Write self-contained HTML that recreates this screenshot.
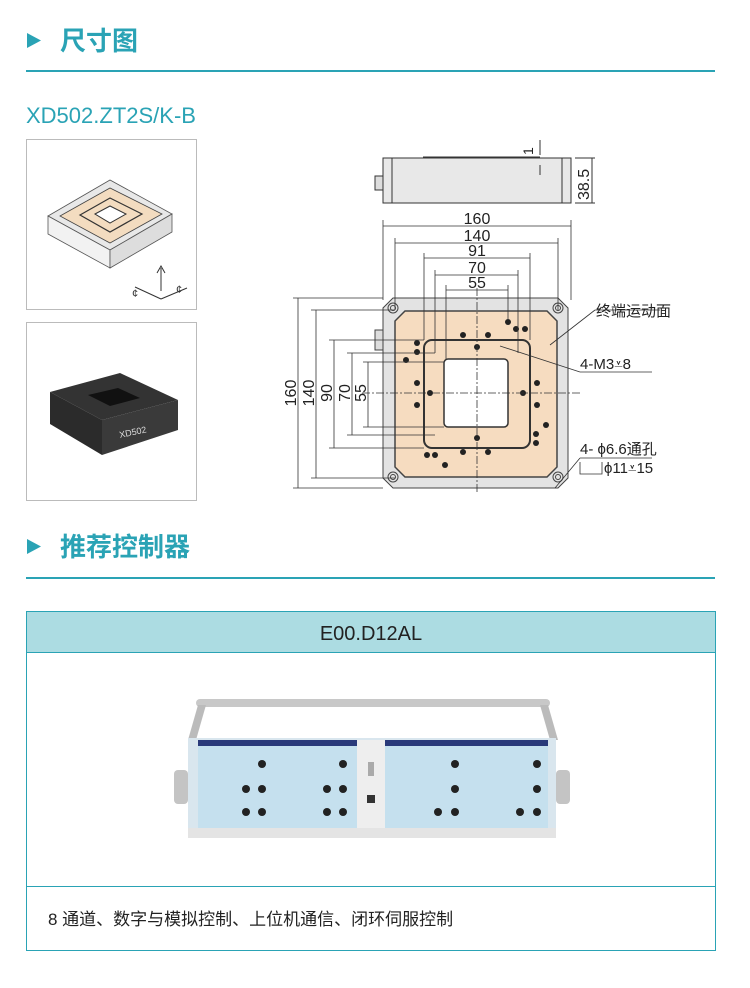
<!DOCTYPE html>
<html><head><meta charset="utf-8"><style>
body{margin:0;background:#fff;width:750px;height:983px;overflow:hidden;font-family:"Liberation Sans","Noto Sans CJK SC",sans-serif}
</style></head><body>
<svg width="750" height="983" xmlns="http://www.w3.org/2000/svg" font-family="Liberation Sans, Noto Sans CJK SC, sans-serif">
<polygon points="27,33 27,48 41,40.5" fill="#2aa3b5"/>
<text x="60" y="50" font-size="26" font-weight="bold" fill="#2aa3b5" font-family="Noto Sans CJK SC, sans-serif">尺寸图</text>
<rect x="26" y="70" width="689" height="2" fill="#2aa3b5"/>
<text x="26" y="123" font-size="22" fill="#2aa3b5">XD502.ZT2S/K-B</text>

<rect x="26.5" y="139.5" width="170" height="170" fill="#fff" stroke="#bbb"/>
<polygon points="48,216 110,180 172,214 110,250" fill="#e8e8e8" stroke="#555" stroke-width="0.8"/>
<polygon points="48,216 110,250 110,268 48,234" fill="#f2f2f2" stroke="#555" stroke-width="0.8"/>
<polygon points="110,250 172,214 172,232 110,268" fill="#ddd" stroke="#555" stroke-width="0.8"/>
<polygon points="60,216 110,188 162,214 110,243" fill="#f3dcc0" stroke="#444" stroke-width="0.8"/>
<polygon points="80,215 110,198 142,214 110,232" fill="none" stroke="#333" stroke-width="1.2"/>
<polygon points="95,214 110,206 126,214 110,223" fill="#fff" stroke="#333"/>
<path d="M161,291 L161,268 M157,273 L161,266 165,273 M135,287 L161,299 M161,299 L187,288" stroke="#333" fill="none"/>
<text x="132" y="297" font-size="11" fill="#333">¢</text><text x="176" y="293" font-size="11" fill="#333">¢</text>

<rect x="26.5" y="322.5" width="170" height="178" fill="#fff" stroke="#bbb"/>
<polygon points="50,392 120,373 178,400 102,420" fill="#333"/>
<polygon points="50,392 102,420 102,455 50,424" fill="#2b2b2b"/>
<polygon points="102,420 178,400 178,430 102,455" fill="#3a3a3a"/>
<polygon points="88,395 118,388 140,398 110,406" fill="#111"/>
<text x="120" y="438" font-size="9" fill="#ddd" transform="rotate(-12 120 438)">XD502</text>

<g stroke="#333" stroke-width="1" fill="none">
<rect x="383" y="158" width="188" height="45" fill="#e8e8e8"/>
<line x1="392" y1="158" x2="392" y2="203"/><line x1="562" y1="158" x2="562" y2="203"/>
<rect x="375" y="176" width="8" height="14" fill="#ddd"/>
<line x1="423" y1="157" x2="540" y2="157"/>
<line x1="540" y1="140" x2="540" y2="155"/><line x1="540" y1="165" x2="540" y2="175"/>
<line x1="575" y1="158" x2="595" y2="158"/><line x1="575" y1="203" x2="595" y2="203"/>
<line x1="592" y1="158" x2="592" y2="203"/>
</g>
<text x="533" y="155" font-size="14" fill="#222" transform="rotate(-90 533 155)">1</text>
<text x="589" y="200" font-size="16" fill="#222" transform="rotate(-90 589 200)">38.5</text>

<polygon points="393,298 558,298 568,308 568,478 558,488 393,488 383,478 383,308" fill="#e3e3e3" stroke="#444"/>
<polygon points="405,311 547,311 557,321 557,467 547,477 405,477 395,467 395,321" fill="#f6dcc0" stroke="#444" stroke-width="1.5"/>
<rect x="424" y="340" width="106" height="108" rx="8" fill="none" stroke="#333" stroke-width="2"/>
<rect x="444" y="359" width="64" height="68" rx="4" fill="#fff" stroke="#333" stroke-width="1.5"/>
<g fill="none" stroke="#444">
<circle cx="393" cy="308" r="5"/><circle cx="393" cy="308" r="2.5"/>
<circle cx="558" cy="308" r="5"/><circle cx="558" cy="308" r="2.5"/>
<circle cx="393" cy="477" r="5"/><circle cx="393" cy="477" r="2.5"/>
<circle cx="558" cy="477" r="5"/><circle cx="558" cy="477" r="2.5"/>
</g>
<rect x="375" y="330" width="8" height="20" fill="#ddd" stroke="#444"/>
<g fill="#222">
<circle cx="508" cy="322" r="3"/><circle cx="516" cy="329" r="3"/><circle cx="525" cy="329" r="3"/>
<circle cx="463" cy="335" r="3"/><circle cx="488" cy="335" r="3"/>
<circle cx="417" cy="343" r="3"/><circle cx="417" cy="352" r="3"/><circle cx="406" cy="360" r="3"/>
<circle cx="477" cy="347" r="3"/><circle cx="477" cy="438" r="3"/>
<circle cx="417" cy="383" r="3"/><circle cx="430" cy="393" r="3"/><circle cx="417" cy="405" r="3"/>
<circle cx="537" cy="383" r="3"/><circle cx="523" cy="393" r="3"/><circle cx="537" cy="405" r="3"/>
<circle cx="546" cy="425" r="3"/><circle cx="536" cy="434" r="3"/><circle cx="536" cy="443" r="3"/>
<circle cx="463" cy="452" r="3"/><circle cx="488" cy="452" r="3"/>
<circle cx="427" cy="455" r="3"/><circle cx="435" cy="455" r="3"/><circle cx="445" cy="465" r="3"/>
</g>
<g stroke="#333" stroke-width="0.8" fill="none">
<line x1="477" y1="288" x2="477" y2="492" stroke-dasharray="8,2,2,2"/>
<line x1="362" y1="393" x2="582" y2="393" stroke-dasharray="8,2,2,2"/>
<line x1="383" y1="226" x2="571" y2="226"/><line x1="383" y1="220" x2="383" y2="300"/><line x1="571" y1="220" x2="571" y2="300"/>
<line x1="395" y1="243" x2="558" y2="243"/><line x1="395" y1="238" x2="395" y2="310"/><line x1="558" y1="238" x2="558" y2="310"/>
<line x1="424" y1="258" x2="530" y2="258"/><line x1="424" y1="253" x2="424" y2="340"/><line x1="530" y1="253" x2="530" y2="340"/>
<line x1="435" y1="275" x2="518" y2="275"/><line x1="435" y1="270" x2="435" y2="353"/><line x1="518" y1="270" x2="518" y2="353"/>
<line x1="446" y1="290" x2="508" y2="290"/><line x1="446" y1="285" x2="446" y2="359"/><line x1="508" y1="285" x2="508" y2="320"/>
<line x1="298" y1="298" x2="298" y2="488"/><line x1="293" y1="298" x2="383" y2="298"/><line x1="293" y1="488" x2="383" y2="488"/>
<line x1="316" y1="310" x2="316" y2="478"/><line x1="311" y1="310" x2="395" y2="310"/><line x1="311" y1="478" x2="395" y2="478"/>
<line x1="334" y1="340" x2="334" y2="448"/><line x1="329" y1="340" x2="424" y2="340"/><line x1="329" y1="448" x2="424" y2="448"/>
<line x1="352" y1="353" x2="352" y2="435"/><line x1="347" y1="353" x2="435" y2="353"/><line x1="347" y1="435" x2="435" y2="435"/>
<line x1="368" y1="362" x2="368" y2="427"/><line x1="363" y1="362" x2="444" y2="362"/><line x1="363" y1="427" x2="444" y2="427"/>
<line x1="550" y1="345" x2="595" y2="310"/><line x1="595" y1="310" x2="660" y2="310"/>
<line x1="500" y1="346" x2="580" y2="372"/><line x1="580" y1="372" x2="652" y2="372"/>
<line x1="555" y1="488" x2="580" y2="458"/><line x1="580" y1="458" x2="652" y2="458"/>
<path d="M580,462 L580,474 L602,474 L602,462"/>
</g>
<g font-size="16" fill="#222" text-anchor="middle">
<text x="477" y="224">160</text><text x="477" y="241">140</text><text x="477" y="256">91</text><text x="477" y="273">70</text><text x="477" y="288">55</text>
</g>
<g font-size="16" fill="#222" text-anchor="middle">
<text transform="translate(296,393) rotate(-90)">160</text>
<text transform="translate(314,393) rotate(-90)">140</text>
<text transform="translate(332,393) rotate(-90)">90</text>
<text transform="translate(350,393) rotate(-90)">70</text>
<text transform="translate(366,393) rotate(-90)">55</text>
</g>
<g font-size="15" fill="#222">
<text x="596" y="316">终端运动面</text>
<text x="580" y="369">4-M3<tspan font-family="DejaVu Sans, sans-serif">⩡</tspan>8</text>
<text x="580" y="454">4- ϕ6.6通孔</text>
<text x="604" y="473">ϕ11<tspan font-family="DejaVu Sans, sans-serif">⩡</tspan>15</text>
</g>

<polygon points="27,539 27,554 41,546.5" fill="#2aa3b5"/>
<text x="60" y="556" font-size="26" font-weight="bold" fill="#2aa3b5" font-family="Noto Sans CJK SC, sans-serif">推荐控制器</text>
<rect x="26" y="577" width="689" height="2" fill="#2aa3b5"/>

<rect x="26.5" y="611.5" width="689" height="339" fill="#fff" stroke="#2aa3b5"/>
<rect x="27" y="612" width="688" height="40" fill="#acdce2"/>
<line x1="26" y1="652.5" x2="716" y2="652.5" stroke="#2aa3b5"/>
<line x1="26" y1="886.5" x2="716" y2="886.5" stroke="#2aa3b5"/>
<text x="371" y="640" font-size="20" fill="#222" text-anchor="middle">E00.D12AL</text>
<text x="48" y="925" font-size="17" fill="#222">8 通道、数字与模拟控制、上位机通信、闭环伺服控制</text>

<rect x="196" y="699" width="354" height="8" rx="4" fill="#c8c8c8"/>
<polygon points="198,705 206,705 196,740 188,740" fill="#bbb"/>
<polygon points="540,705 548,705 558,740 550,740" fill="#bbb"/>
<rect x="174" y="770" width="14" height="34" rx="4" fill="#c4c4c4"/>
<rect x="556" y="770" width="14" height="34" rx="4" fill="#c4c4c4"/>
<rect x="188" y="738" width="368" height="100" fill="#d9e6ee"/>
<rect x="198" y="740" width="350" height="6" fill="#2a3a7a"/>
<rect x="198" y="746" width="350" height="82" fill="#c5e0ee"/>
<rect x="357" y="740" width="28" height="96" fill="#eee"/>
<rect x="367" y="795" width="8" height="8" fill="#333"/>
<rect x="368" y="762" width="6" height="14" fill="#aaa"/>
<g fill="#222">
<circle cx="262" cy="764" r="4"/><circle cx="262" cy="789" r="4"/><circle cx="262" cy="812" r="4"/><circle cx="246" cy="789" r="4"/><circle cx="246" cy="812" r="4"/>
<circle cx="343" cy="764" r="4"/><circle cx="343" cy="789" r="4"/><circle cx="343" cy="812" r="4"/><circle cx="327" cy="789" r="4"/><circle cx="327" cy="812" r="4"/>
<circle cx="455" cy="764" r="4"/><circle cx="455" cy="789" r="4"/><circle cx="438" cy="812" r="4"/><circle cx="455" cy="812" r="4"/>
<circle cx="537" cy="764" r="4"/><circle cx="537" cy="789" r="4"/><circle cx="520" cy="812" r="4"/><circle cx="537" cy="812" r="4"/>
</g>
<rect x="188" y="828" width="368" height="10" fill="#e4e4e4"/>
</svg>
</body></html>
